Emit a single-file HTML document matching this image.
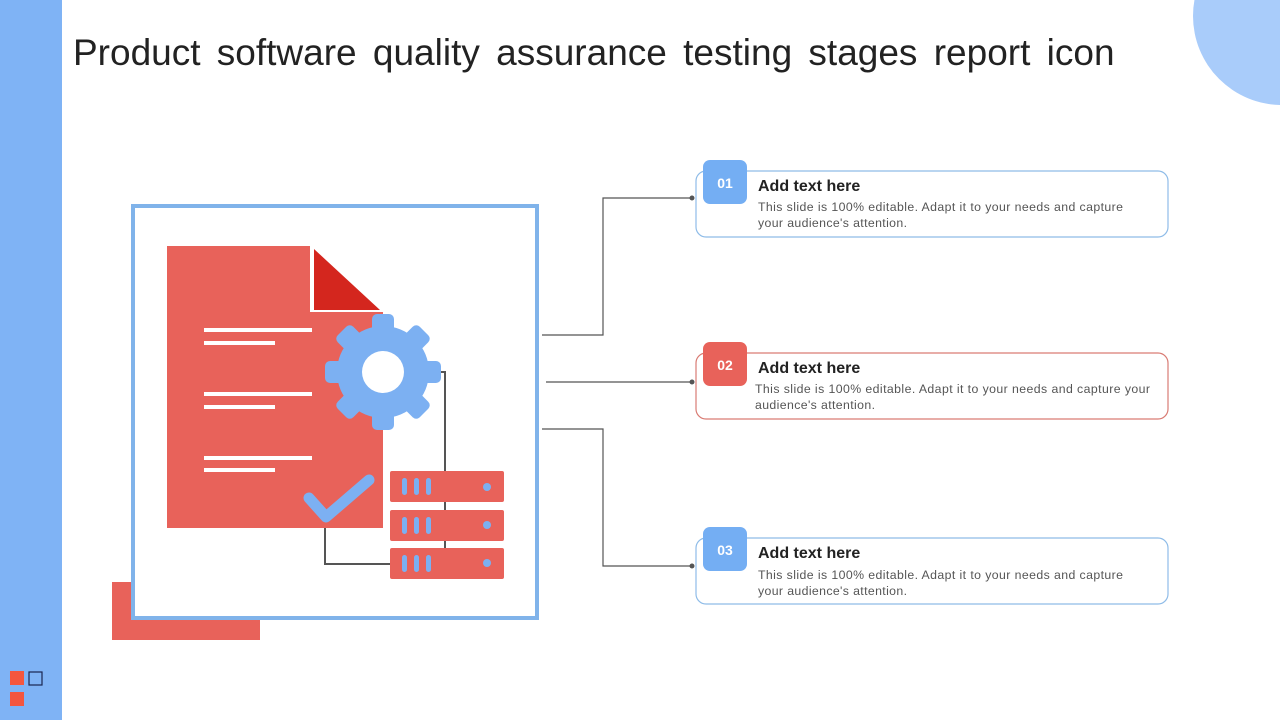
<!DOCTYPE html>
<html><head><meta charset="utf-8"><style>
html,body{margin:0;padding:0;background:#fff;}
svg{display:block;font-family:"Liberation Sans",sans-serif;}
</style></head><body>
<svg width="1280" height="720" viewBox="0 0 1280 720" xmlns="http://www.w3.org/2000/svg">
<rect x="0" y="0" width="62" height="720" fill="#7fb3f5"/>
<circle cx="1282" cy="16" r="89" fill="#a9ccfa"/>
<rect x="10" y="671" width="14" height="14" fill="#f4563e"/>
<rect x="29" y="672" width="13" height="13" fill="none" stroke="#1a2550" stroke-width="1.2"/>
<rect x="10" y="692" width="14" height="14" fill="#f4563e"/>
<text x="73" y="65" font-size="37" fill="#222" word-spacing="6">Product software quality assurance testing stages report icon</text>

<rect x="112" y="582" width="148" height="58" fill="#e8625a"/>
<rect x="133" y="206" width="404" height="412" fill="#fff" stroke="#80b3ea" stroke-width="4"/>
<polygon points="167,246 310,246 310,312 383,312 383,528 167,528" fill="#e8625a"/>
<polygon points="314,249 380,310 314,310" fill="#d4261e"/>
<g fill="#fff">
<rect x="204" y="328" width="108" height="4"/><rect x="204" y="341" width="71" height="4"/>
<rect x="204" y="392" width="108" height="4"/><rect x="204" y="405" width="71" height="4"/>
<rect x="204" y="456" width="108" height="4"/><rect x="204" y="468" width="71" height="4"/>
</g>
<g stroke="#555" stroke-width="2" fill="none">
<polyline points="441,372 445,372 445,472"/>
<line x1="445" y1="500" x2="445" y2="511"/>
<line x1="445" y1="540" x2="445" y2="549"/>
<polyline points="325,528 325,564 391,564"/>
</g>
<g fill="#7cb0f2" transform="translate(383,372)">
<circle r="46"/>
<g id="t"><rect x="-11" y="-58" width="22" height="24" rx="5"/></g>
<use href="#t" transform="rotate(45)"/><use href="#t" transform="rotate(90)"/><use href="#t" transform="rotate(135)"/>
<use href="#t" transform="rotate(180)"/><use href="#t" transform="rotate(225)"/><use href="#t" transform="rotate(270)"/><use href="#t" transform="rotate(315)"/>
<circle r="21" fill="#fff"/>
</g>
<polyline points="309,498 326,517 369,480" fill="none" stroke="#7cb0f2" stroke-width="11" stroke-linecap="round" stroke-linejoin="round"/>
<g>
<rect x="390" y="471" width="114" height="31" rx="2" fill="#e8625a"/>
<rect x="390" y="510" width="114" height="31" rx="2" fill="#e8625a"/>
<rect x="390" y="548" width="114" height="31" rx="2" fill="#e8625a"/>
<g fill="#7cb0f2">
<rect x="402" y="478" width="5" height="17" rx="2.5"/><rect x="414" y="478" width="5" height="17" rx="2.5"/><rect x="426" y="478" width="5" height="17" rx="2.5"/><circle cx="487" cy="487" r="4"/>
<rect x="402" y="517" width="5" height="17" rx="2.5"/><rect x="414" y="517" width="5" height="17" rx="2.5"/><rect x="426" y="517" width="5" height="17" rx="2.5"/><circle cx="487" cy="525" r="4"/>
<rect x="402" y="555" width="5" height="17" rx="2.5"/><rect x="414" y="555" width="5" height="17" rx="2.5"/><rect x="426" y="555" width="5" height="17" rx="2.5"/><circle cx="487" cy="563" r="4"/>
</g></g>
<g stroke="#555" stroke-width="1.2" fill="none">
<polyline points="542,335 603,335 603,198 692,198"/>
<line x1="546" y1="382" x2="692" y2="382"/>
<polyline points="542,429 603,429 603,566 692,566"/>
</g>
<g fill="#555"><circle cx="692" cy="198" r="2.5"/><circle cx="692" cy="382" r="2.5"/><circle cx="692" cy="566" r="2.5"/></g>
<rect x="696" y="171" width="472" height="66" rx="10" fill="#fff" stroke="#8fbce8" stroke-width="1.2"/>
<rect x="696" y="353" width="472" height="66" rx="10" fill="#fff" stroke="#d97c74" stroke-width="1.2"/>
<rect x="696" y="538" width="472" height="66" rx="10" fill="#fff" stroke="#8fbce8" stroke-width="1.2"/>
<rect x="703" y="160" width="44" height="44" rx="7" fill="#74aef3"/>
<rect x="703" y="342" width="44" height="44" rx="7" fill="#e8625a"/>
<rect x="703" y="527" width="44" height="44" rx="7" fill="#74aef3"/>
<g fill="#fff" font-size="14" font-weight="bold" text-anchor="middle">
<text x="725" y="188">01</text><text x="725" y="370">02</text><text x="725" y="555">03</text></g>
<g fill="#222" font-size="16" font-weight="bold">
<text x="758" y="191">Add text here</text><text x="758" y="373">Add text here</text><text x="758" y="558">Add text here</text></g>
<g fill="#555" font-size="12.3">
<text x="758" y="211" textLength="365" lengthAdjust="spacing">This slide is 100% editable. Adapt it to your needs and capture</text>
<text x="758" y="227" textLength="149" lengthAdjust="spacing">your audience's attention.</text>
<text x="755" y="393" textLength="395" lengthAdjust="spacing">This slide is 100% editable. Adapt it to your needs and capture your</text>
<text x="755" y="409" textLength="120" lengthAdjust="spacing">audience's attention.</text>
<text x="758" y="579" textLength="365" lengthAdjust="spacing">This slide is 100% editable. Adapt it to your needs and capture</text>
<text x="758" y="595" textLength="149" lengthAdjust="spacing">your audience's attention.</text>
</g>
</svg>
</body></html>
